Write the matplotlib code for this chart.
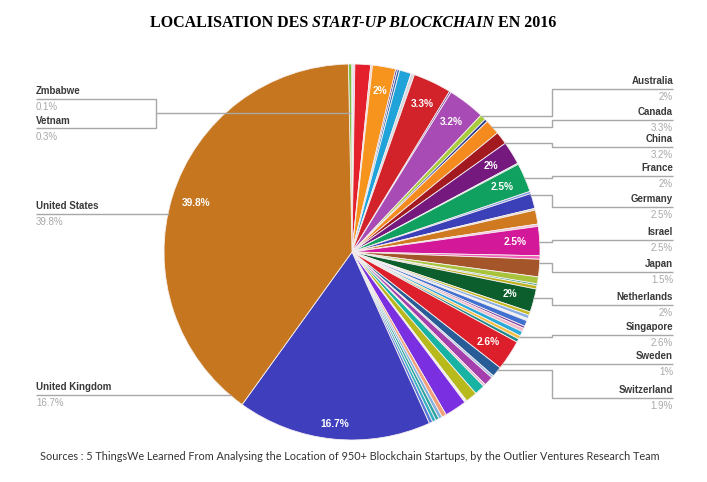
import numpy as np
import matplotlib
matplotlib.use("Agg")
import matplotlib.pyplot as plt

# slices, clockwise from the top of the pie
slice_names = [
    "Vetnam", "Zmbabwe", "", "", "", "Australia", "", "", "", "",
    "Canada", "", "China", "", "", "", "", "France", "", "Germany",
    "", "", "", "", "", "Israel", "", "Japan", "", "",
    "", "Netherlands", "", "", "", "", "", "", "", "",
    "", "Singapore", "", "", "", "", "", "Sweden", "", "Switzerland",
    "", "", "", "", "", "United Kingdom", "United States",
]
slice_values = [
    0.3, 0.1, 0.15, 1.35, 0.15, 2.0, 0.15, 0.2, 1.0, 0.3,
    3.3, 0.15, 3.2, 0.5, 0.25, 1.3, 1.1, 2.0, 0.1, 2.5,
    0.2, 1.3, 0.15, 1.2, 0.2, 2.5, 0.3, 1.5, 0.6, 0.15,
    0.3, 2.0, 0.3, 0.3, 0.2, 0.5, 0.2, 0.3, 0.4, 0.3,
    0.3, 2.6, 0.9, 0.2, 0.8, 0.2, 0.9, 1.0, 0.2, 1.9,
    0.4, 0.3, 0.3, 0.3, 0.3, 16.7, 39.8,
]
slice_colors = [
    "#7cc242", "#f4c6d4", "#d9c8e8", "#e3202b", "#f7c9c0", "#f7941d", "#5b2c86", "#2e6db4", "#1fa3d8", "#d8d8e0",
    "#d2232a", "#6a3d9a", "#a94bb5", "#a8cc3c", "#2b3990", "#f58a1f", "#a2191f", "#75197f", "#3cc0b0", "#10a060",
    "#7a9be0", "#3b40b8", "#e0d0c0", "#cf7a20", "#f2c0d8", "#d4189a", "#f060b8", "#a4552a", "#a9c43c", "#2a9a8a",
    "#bdb31e", "#0c5e2c", "#c6bb22", "#86aee6", "#eef0fa", "#4071d0", "#7b3fa0", "#f2b8c8", "#2aaad8", "#f5c040",
    "#1f8a8a", "#dc1f2a", "#285c96", "#9ab8e8", "#a43fae", "#f0b0d0", "#19b3a3", "#b8b91a", "#f4f4e0", "#7a2fe0",
    "#f2a07a", "#7fb2e0", "#2ea3a3", "#30b0c0", "#5a78d8", "#3f3fbd", "#c6761e",
]

# percentages printed inside the pie
inside_labels = ["Australia", "Canada", "China", "France", "Germany", "Israel",
                 "Netherlands", "Singapore", "United Kingdom", "United States"]

# right-hand legend
right_names = ["Australia", "Canada", "China", "France", "Germany", "Israel",
               "Japan", "Netherlands", "Singapore", "Sweden", "Switzerland"]
right_values = ["2%", "3.3%", "3.2%", "2%", "2.5%", "2.5%", "1.5%", "2%", "2.6%", "1%", "1.9%"]
right_underline_y = [89, 120, 147, 176, 207, 240, 272, 305, 335, 364, 398]
right_leader_y = [116, 127, 143, 178, 195, 242, 263, 298, 337, 364, 370]

title_parts = ["LOCALISATION DES", "START-UP BLOCKCHAIN", "EN 2016"]
source = ("Sources : 5 ThingsWe Learned From Analysing the Location of 950+ "
          "Blockchain Startups, by the Outlier Ventures Research Team")

W, H = 707, 482
CX, CY, R = 352, 252, 188     # pie in pixel coords (y from top)


def Y(y):
    return H - y


fig = plt.figure(figsize=(W / 100, H / 100), dpi=100)
ax = fig.add_axes([0, 0, 1, 1])

wedges, _ = ax.pie(slice_values, colors=slice_colors, startangle=91.1,
                   counterclock=False, center=(CX, Y(CY)), radius=R,
                   wedgeprops=dict(edgecolor="#f6f0f0", linewidth=0.6))
ax.set_xlim(0, W)
ax.set_ylim(0, H)
ax.set_aspect("equal")
ax.axis("off")

# percentages inside wedges
for name, v, w in zip(slice_names, slice_values, wedges):
    if name in inside_labels:
        a = np.deg2rad((w.theta1 + w.theta2) / 2)
        rr = R * (0.92 if name == "United Kingdom" else 0.87)
        ax.text(CX + rr * np.cos(a), Y(CY) + rr * np.sin(a), f"{v:g}%",
                color="white", fontsize=7.3, fontweight="bold",
                family="Liberation Sans", ha="center", va="center")

line_kw = dict(color="#a8a8a8", lw=1.0, solid_capstyle="butt")
name_kw = dict(fontsize=7, fontweight="bold", color="#3a3a3a", family="Liberation Sans")
val_kw = dict(fontsize=7, color="#a8a8a8", family="Liberation Sans")


def edge_x(y, side):
    d = CY - y
    return CX + side * np.sqrt(max(R * R - d * d, 0))


# right legend with leader lines
for nm, val, yu, yl in zip(right_names, right_values, right_underline_y, right_leader_y):
    x0 = edge_x(yl, 1) - 1
    ax.plot([x0, 552, 552, 673], [Y(yl), Y(yl), Y(yu), Y(yu)], **line_kw)
    ax.text(673, Y(yu - 8), nm, ha="right", va="center", **name_kw)
    ax.text(673, Y(yu + 8), val, ha="right", va="center", **val_kw)

# left legend
ax.text(36, Y(91), "Zmbabwe", ha="left", va="center", **name_kw)
ax.text(36, Y(107), "0.1%", ha="left", va="center", **val_kw)
ax.text(36, Y(121), "Vetnam", ha="left", va="center", **name_kw)
ax.text(36, Y(137), "0.3%", ha="left", va="center", **val_kw)
ax.plot([36, 156, 156, 36], [Y(99), Y(99), Y(128), Y(128)], **line_kw)
wv = wedges[0]
av = np.deg2rad((wv.theta1 + wv.theta2) / 2)
ax.plot([156, CX + (CY - 113) * np.cos(av) / np.sin(av)], [Y(113), Y(113)], **line_kw)

for nm, val, yu in [("United States", "39.8%", 214), ("United Kingdom", "16.7%", 395)]:
    ax.text(36, Y(yu - 8), nm, ha="left", va="center", **name_kw)
    ax.text(36, Y(yu + 8), val, ha="left", va="center", **val_kw)
    ax.plot([36, edge_x(yu, -1) + 1], [Y(yu), Y(yu)], **line_kw)

# title: roman / italic / roman, fitted to the original width
rend = fig.canvas.get_renderer()
tkw = dict(fontsize=10.5, fontweight="bold", family="Liberation Serif", va="center", ha="left")
styles = ["normal", "italic", "normal"]
texts = [ax.text(0, Y(23), t, style=s, **tkw) for t, s in zip(title_parts, styles)]
widths = [t.get_window_extent(rend).width for t in texts]
scale = 400 / sum(widths)
for t in texts:
    t.set_fontsize(10.5 * scale)
widths = [t.get_window_extent(rend).width for t in texts]
gap = 3.8
x = 353 - (sum(widths) + 2 * gap) / 2
for t, wd in zip(texts, widths):
    t.set_x(x)
    x += wd + gap

# source line, fitted to the width of the original
src = ax.text(40, Y(456), source, fontsize=8, family="Lato", color="#333333",
              ha="left", va="center")
sw = src.get_window_extent(rend).width
src.set_fontsize(8 * 618 / sw)

fig.savefig("out.png", dpi=100)
